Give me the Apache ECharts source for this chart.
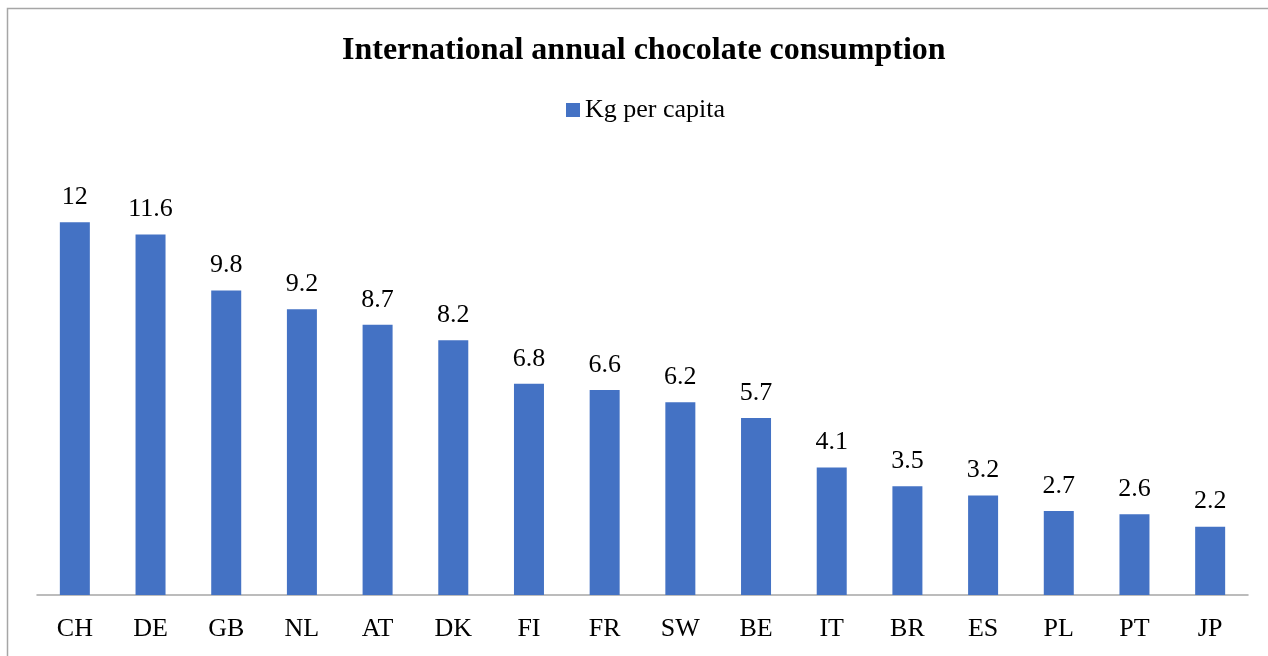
<!DOCTYPE html>
<html>
<head>
<meta charset="utf-8">
<script src="https://cdn.jsdelivr.net/npm/echarts@6/dist/echarts.min.js"></script>
<style>
  html, body { margin: 0; padding: 0; background: #fff; }
  #chart { width: 1268px; height: 656px; }
</style>
</head>
<body>
<div id="chart"></div>
<script>
// country codes along the x axis
var countries = ['CH', 'DE', 'GB', 'NL', 'AT', 'DK', 'FI', 'FR', 'SW', 'BE', 'IT', 'BR', 'ES', 'PL', 'PT', 'JP'];
// kg of chocolate per person per year
var kgPerCapita = [12, 11.6, 9.8, 9.2, 8.7, 8.2, 6.8, 6.6, 6.2, 5.7, 4.1, 3.5, 3.2, 2.7, 2.6, 2.2];

var font = '"Liberation Serif", "Times New Roman", serif';
var myChart = echarts.init(document.getElementById('chart'));

var option = {
  backgroundColor: '#fff',
  animation: false,
  graphic: [{
    type: 'rect',
    shape: { x: 7.5, y: 8.5, width: 1300, height: 700 },
    style: { fill: 'none', stroke: '#a6a6a6', lineWidth: 1.5 },
    silent: true
  }],
  title: {
    text: 'International annual chocolate consumption',
    left: 337,
    top: 30,
    textStyle: { fontFamily: font, fontSize: 32, fontWeight: 'bold', color: '#000' }
  },
  legend: {
    data: ['Kg per capita'],
    left: 561,
    top: 92,
    icon: 'rect',
    itemWidth: 14,
    itemHeight: 14,
    itemGap: 6,
    textStyle: { fontFamily: font, fontSize: 26, color: '#000' }
  },
  grid: { left: 37, right: 20, top: 160, bottom: 61, containLabel: false },
  xAxis: {
    type: 'category',
    data: countries,
    axisLine: { lineStyle: { color: '#a6a6a6', width: 1.5 } },
    axisTick: { show: false },
    axisLabel: { fontFamily: font, fontSize: 26, color: '#000', margin: 21 }
  },
  yAxis: {
    type: 'value',
    min: 0,
    max: 14,
    show: false,
    splitLine: { show: false }
  },
  series: [{
    name: 'Kg per capita',
    type: 'bar',
    data: kgPerCapita,
    barWidth: 30,
    itemStyle: { color: '#4472c4' },
    label: {
      show: true,
      position: 'top',
      distance: 12,
      fontFamily: font,
      fontSize: 26,
      color: '#000'
    }
  }]
};
myChart.setOption(option);
</script>
</body>
</html>
